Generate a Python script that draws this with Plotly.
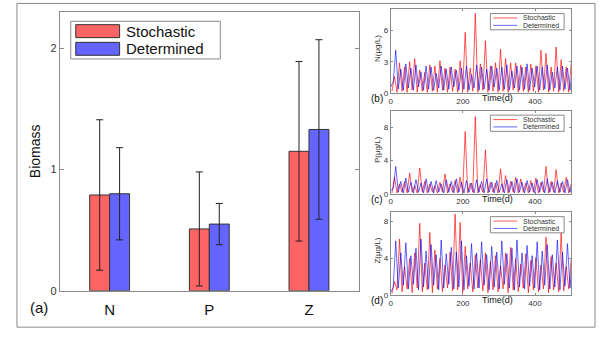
import numpy as np
import plotly.graph_objects as go

W, H = 599, 342

# ---- panel (a): mean biomass with error bars ----
categories = ["N", "P", "Z"]
sto_mean = [0.79, 0.51, 1.15]
sto_err = [0.62, 0.47, 0.74]
det_mean = [0.80, 0.55, 1.33]
det_err = [0.38, 0.17, 0.74]

# ---- panels (b)-(d): time series (ug/L), determined on day grid 0,7,..; stochastic on 3.5,10.5,..
t_det = np.arange(0, 505, 7)
t_sto = np.arange(3.5, 505, 7)

N_det = [0.6, 1.1, 4.1, 0.4, 2.3, 0.3, 2.8, 0.5, 2.4, 0.3,
         2.7, 0.6, 2.0, 0.3, 2.6, 0.4, 2.5, 0.3, 1.9, 0.5,
         2.6, 0.3, 2.3, 0.4, 2.5, 0.6, 2.2, 0.3, 2.4, 0.4,
         2.6, 0.3, 1.8, 0.5, 2.7, 0.3, 2.5, 0.4, 2.3, 0.3,
         2.6, 0.6, 2.4, 0.3, 2.5, 0.4, 2.7, 0.3, 2.1, 0.5,
         2.6, 0.3, 2.5, 0.4, 2.8, 0.3, 2.4, 0.6, 2.6, 0.3,
         2.5, 0.4, 2.7, 0.3, 2.0, 0.5, 2.5, 0.3, 2.6, 0.4,
         2.4, 0.3, 2.5]
N_sto = [0.2, 1.6, 0.1, 2.9, 0.2, 2.5, 0.1, 3.0, 0.3, 3.3,
         0.1, 2.2, 0.2, 2.0, 0.1, 2.7, 0.2, 2.6, 0.1, 3.1,
         0.3, 2.4, 0.1, 2.5, 0.2, 2.3, 0.1, 3.1, 0.2, 5.8,
         0.1, 2.4, 0.2, 7.6, 0.1, 2.8, 0.3, 5.0, 0.1, 2.6,
         0.2, 2.9, 0.1, 4.2, 0.2, 3.3, 0.1, 2.9, 0.3, 2.9,
         0.1, 2.7, 0.2, 2.5, 0.1, 2.8, 0.2, 2.6, 0.1, 4.1,
         0.3, 3.8, 0.1, 2.5, 0.2, 4.4, 0.1, 3.2, 0.2, 2.5,
         0.1, 2.9]

P_det = [0.4, 0.6, 3.3, 0.2, 1.5, 0.1, 1.9, 0.2, 1.4, 0.1,
         1.7, 0.2, 1.3, 0.1, 1.8, 0.2, 1.5, 0.1, 1.6, 0.2,
         1.2, 0.1, 1.7, 0.2, 1.5, 0.1, 1.8, 0.2, 1.4, 0.1,
         1.6, 0.2, 1.3, 0.1, 1.7, 0.2, 1.5, 0.1, 1.8, 0.2,
         1.4, 0.1, 1.6, 0.2, 1.2, 0.1, 1.7, 0.2, 1.5, 0.1,
         1.8, 0.2, 1.4, 0.1, 1.6, 0.2, 1.3, 0.1, 1.7, 0.2,
         1.5, 0.1, 1.8, 0.2, 1.4, 0.1, 1.6, 0.2, 1.5, 0.1,
         1.7, 0.2, 1.4]
P_sto = [0.1, 2.0, 0.1, 1.2, 0.2, 1.5, 0.1, 2.5, 0.2, 1.0,
         0.1, 3.1, 0.2, 1.5, 0.1, 1.2, 0.2, 1.0, 0.1, 1.4,
         0.2, 2.4, 0.1, 1.2, 0.2, 1.6, 0.1, 2.0, 0.2, 7.5,
         0.1, 1.3, 0.2, 9.3, 0.1, 1.1, 0.2, 5.3, 0.1, 1.4,
         0.2, 1.3, 0.1, 3.0, 0.2, 2.2, 0.1, 1.5, 0.2, 2.0,
         0.1, 1.8, 0.2, 1.3, 0.1, 1.6, 0.2, 1.9, 0.1, 1.4,
         0.2, 3.3, 0.1, 1.5, 0.2, 2.9, 0.1, 1.3, 0.2, 2.0,
         0.1, 1.2]

Z_det = [0.3, 0.9, 5.9, 0.8, 4.6, 1.1, 5.7, 0.7, 4.3, 1.2,
         5.1, 0.6, 6.1, 0.9, 4.8, 0.7, 5.5, 1.1, 4.4, 0.6,
         6.0, 0.8, 4.5, 1.2, 5.2, 0.7, 4.7, 0.9, 5.9, 0.6,
         4.3, 1.0, 5.6, 0.7, 4.6, 0.8, 5.8, 1.1, 4.4, 0.6,
         5.3, 0.9, 4.7, 0.7, 5.9, 1.2, 4.5, 0.8, 5.1, 0.6,
         6.0, 0.9, 4.6, 0.7, 5.4, 1.0, 4.3, 0.8, 5.8, 0.6,
         4.8, 1.1, 5.5, 0.7, 4.4, 0.9, 6.0, 0.6, 4.7, 1.0,
         5.6, 0.8, 4.5]
Z_sto = [0.2, 1.5, 0.6, 6.1, 0.4, 3.1, 0.7, 4.0, 0.3, 4.6,
         0.8, 7.8, 0.4, 3.5, 0.6, 6.8, 0.3, 4.9, 0.7, 4.0,
         0.4, 3.3, 0.8, 4.7, 0.5, 8.8, 0.6, 7.9, 0.3, 5.3,
         0.7, 3.5, 0.4, 4.4, 0.8, 3.9, 0.5, 4.6, 0.3, 3.7,
         0.6, 4.3, 0.4, 3.2, 0.7, 4.6, 0.3, 5.2, 0.6, 4.0,
         0.4, 3.4, 0.8, 4.5, 0.3, 3.8, 0.6, 4.1, 0.4, 3.3,
         0.7, 6.3, 0.3, 4.2, 0.6, 3.5, 0.4, 6.8, 0.5, 3.1,
         0.7, 4.0]

RED_BAR, BLUE_BAR = "#ff6464", "#6464ff"
RED_LINE, BLUE_LINE = "rgba(255,0,0,0.65)", "rgba(0,0,255,0.6)"
FRAME = "#8a8a8a"
FONT = "Liberation Sans, Arial, sans-serif"


def px(x):
    return x / W


def py(y):
    return 1 - y / H


fig = go.Figure()

fig.add_trace(go.Bar(x=categories, y=sto_mean, name="Stochastic",
                     marker=dict(color=RED_BAR, line=dict(color="#333", width=1)),
                     error_y=dict(type="data", array=sto_err, color="#222", thickness=1, width=3.5),
                     xaxis="x", yaxis="y", showlegend=False))
fig.add_trace(go.Bar(x=categories, y=det_mean, name="Determined",
                     marker=dict(color=BLUE_BAR, line=dict(color="#333", width=1)),
                     error_y=dict(type="data", array=det_err, color="#222", thickness=1, width=3.5),
                     xaxis="x", yaxis="y", showlegend=False))

series = [(N_sto, N_det, "2"), (P_sto, P_det, "3"), (Z_sto, Z_det, "4")]
for sto, det, k in series:
    fig.add_trace(go.Scatter(x=t_sto, y=sto, mode="lines", line=dict(color=RED_LINE, width=1),
                             xaxis="x" + k, yaxis="y" + k, showlegend=False))
    fig.add_trace(go.Scatter(x=t_det, y=det, mode="lines", line=dict(color=BLUE_LINE, width=1),
                             xaxis="x" + k, yaxis="y" + k, showlegend=False))

axis_style = dict(showline=True, linecolor=FRAME, linewidth=1, mirror="ticks", showgrid=False,
                  zeroline=False, ticks="inside", tickcolor=FRAME)

layout = dict(
    width=W, height=H, margin=dict(l=0, r=0, t=0, b=0),
    paper_bgcolor="white", plot_bgcolor="white",
    font=dict(family=FONT, color="#222"),
    barmode="group", bargap=0.6, bargroupgap=0,
    xaxis=dict(axis_style, domain=[px(58), px(358)], anchor="y", range=[-0.5, 2.5],
               ticks="", ticklabelstandoff=5, tickfont=dict(size=15, color="#111")),
    yaxis=dict(axis_style, domain=[py(296), py(12)], anchor="x", range=[0, 2.3],
               tickvals=[0, 1, 2], ticklen=4, tickfont=dict(size=11, color="#333"),
               title=dict(text="Biomass", font=dict(size=14, color="#111"), standoff=6)),
)

panels = [("2", 9.3, 95, [0, 8], [0, 3, 6]),
          ("3", 112.7, 197.3, [0, 10], [0, 4, 8]),
          ("4", 216, 300.7, [0, 9], [0, 4, 8])]
for k, top, bot, yr, yt in panels:
    layout["xaxis" + k] = dict(axis_style, domain=[px(390), px(571)], anchor="y" + k, range=[0, 500],
                               tickvals=[0, 200, 400], ticklen=2, tickfont=dict(size=8, color="#333"))
    layout["yaxis" + k] = dict(axis_style, domain=[py(bot), py(top)], anchor="x" + k, range=yr,
                               tickvals=yt, ticklen=2, tickfont=dict(size=8, color="#333"))
fig.update_layout(**layout)

shapes = [dict(type="rect", xref="paper", yref="paper", x0=px(15), x1=px(595), y0=py(333), y1=py(3.5),
               line=dict(color=FRAME, width=1))]
annotations = []


def text(x, y, s, size, angle=0, anchor="center", color="#111"):
    annotations.append(dict(x=px(x), y=py(y), xref="paper", yref="paper", text=s, showarrow=False,
                            textangle=angle, xanchor=anchor, yanchor="middle",
                            font=dict(size=size, color=color)))


# legend of panel (a)
shapes.append(dict(type="rect", xref="paper", yref="paper", x0=px(69), x1=px(219), y0=py(60), y1=py(21.7),
                   line=dict(color=FRAME, width=1), fillcolor="white"))
for yc, col, name in [(31.7, RED_BAR, "Stochastic"), (49.7, BLUE_BAR, "Determined")]:
    shapes.append(dict(type="rect", xref="paper", yref="paper", x0=px(74), x1=px(118),
                       y0=py(yc + 6.6), y1=py(yc - 6.6), line=dict(color="#333", width=1), fillcolor=col))
    text(122, yc, name, 15, anchor="left")

# legends and labels of panels (b)-(d)
for (k, top, bot, yr, yt), lab, ylab in zip(panels, ["(b)", "(c)", "(d)"],
                                            ["N(μg/L)", "P(μg/L)", "Z(μg/L)"]):
    y0 = top + 4.5
    shapes.append(dict(type="rect", xref="paper", yref="paper", x0=px(490), x1=px(564),
                       y0=py(y0 + 16.5), y1=py(y0), line=dict(color=FRAME, width=1), fillcolor="white"))
    for dy, col, name in [(4.5, RED_LINE, "Stochastic"), (12, BLUE_LINE, "Determined")]:
        shapes.append(dict(type="line", xref="paper", yref="paper", x0=px(493), x1=px(517),
                           y0=py(y0 + dy), y1=py(y0 + dy), line=dict(color=col, width=1)))
        text(521, y0 + dy, name, 7, anchor="left", color="#333")
    text(377, (top + bot) / 2 - 3, ylab, 8, angle=-90, color="#333")
    text(376, bot + 5.5, lab, 10)
    text(497, bot + 5, "Time(d)", 9)

text(37, 313, "(a)", 15)

fig.update_layout(shapes=shapes, annotations=annotations)
fig.write_html("out.html", config={"displayModeBar": False},
               post_script="document.body.style.margin='0';")
